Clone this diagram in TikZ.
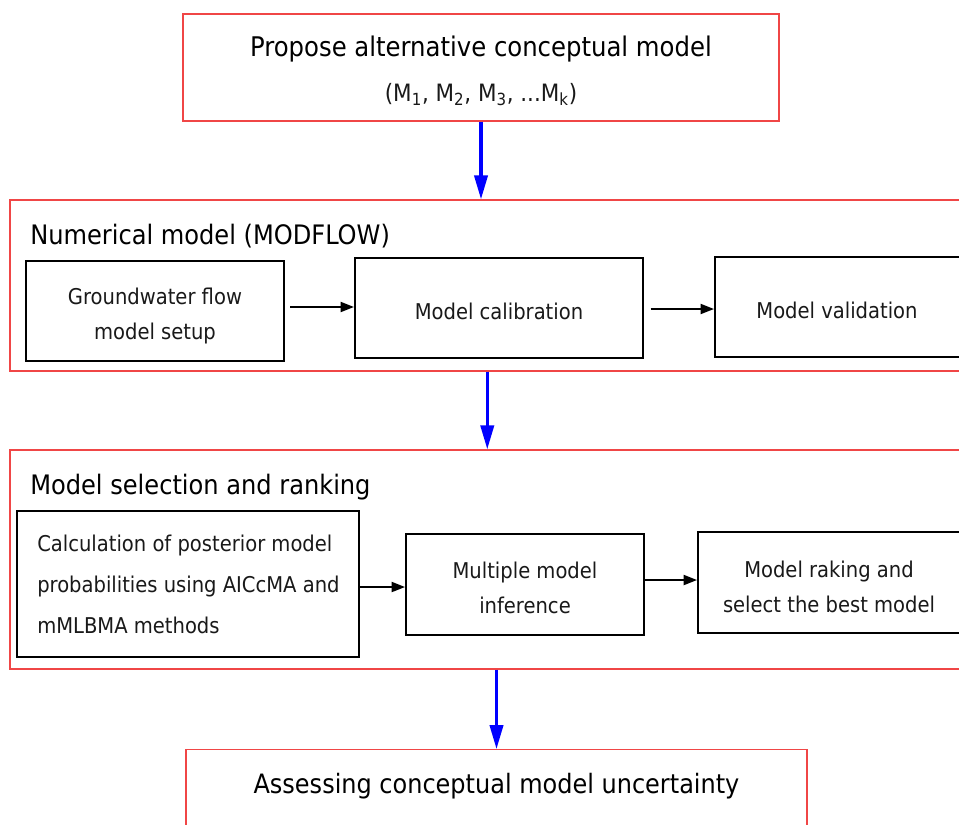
\documentclass[tikz,border=0pt]{standalone}
\usepackage{fontspec}
\setmainfont{DejaVu Sans Condensed}
\usetikzlibrary{arrows.meta,calc}
\definecolor{frame}{RGB}{240,70,70}
\definecolor{flow}{RGB}{0,0,255}
\definecolor{ink}{RGB}{25,25,25}
\begin{document}
\begin{tikzpicture}[x=0.75pt,y=-0.75pt,
  stage/.style={draw=frame,line width=1.1pt,rectangle,inner sep=0pt,align=center,text=ink},
  stepbox/.style={draw=black,line width=1.5pt,rectangle,inner sep=0pt},
  steptext/.style={inner sep=0pt,align=center,text=ink,font=\fontsize{16.3}{26.25}\selectfont},
  heading/.style={anchor=base west,inner sep=0pt,text=black,font=\fontsize{20.1}{24}\selectfont},
  mainflow/.style={draw=flow,line width=2.3pt,-{Triangle[length=18pt,width=10pt]}},
  subflow/.style={draw=black,line width=1.4pt,-{Triangle[length=10pt,width=7.5pt]}}
]
\useasboundingbox (0,0) rectangle (959,824);
\clip (0,0) rectangle (959,824);

% conceptual models
\node[stage,minimum width=596*0.75pt,minimum height=107*0.75pt] (concept) at (481,67.5) {};
\node[anchor=base,inner sep=0pt,text=black,font=\fontsize{20.3}{24}\selectfont]
  (concepttext) at (481,57) {Propose alternative conceptual model};
\node[anchor=base,inner sep=0pt,text=ink,font=\fontsize{17.9}{24}\selectfont]
  (modelset) at (481,101)
  {(M\textsubscript{1}, M\textsubscript{2}, M\textsubscript{3}, ...M\textsubscript{k})};

% numerical model stage
\node[stage,minimum width=952*0.75pt,minimum height=171*0.75pt] (numerical) at (486,285.5) {};
\node[heading] (numtitle) at (30,244) {Numerical model (MODFLOW)};
\node[stepbox,minimum width=258*0.75pt,minimum height=100*0.75pt] (setup) at (155,311) {};
\node[steptext] (setuptext) at (155,316) {Groundwater flow\\model setup};
\node[stepbox,minimum width=288*0.75pt,minimum height=100*0.75pt] (calib) at (499,308) {};
\node[steptext] (calibtext) at (499,311) {Model calibration};
\node[stepbox,minimum width=247*0.75pt,minimum height=100*0.75pt] (valid) at (838.5,307) {};
\node[steptext] (validtext) at (837,310) {Model validation};

% model selection stage
\node[stage,minimum width=952*0.75pt,minimum height=219*0.75pt] (selection) at (486,559.5) {};
\node[heading] (seltitle) at (30,494) {Model selection and ranking};
\node[stepbox,minimum width=342*0.75pt,minimum height=146*0.75pt] (posterior) at (188,584) {};
\node[steptext,anchor=west,align=left,font=\fontsize{16.3}{30.75}\selectfont]
  (posteriortext) at (37,584)
  {Calculation of posterior model\\probabilities using AICcMA and\\mMLBMA methods};
\node[stepbox,minimum width=238*0.75pt,minimum height=101*0.75pt] (inference) at (525,584.5) {};
\node[steptext] (inferencetext) at (525,588) {Multiple model\\inference};
\node[stepbox,minimum width=264*0.75pt,minimum height=101*0.75pt] (ranking) at (830,582.5) {};
\node[steptext] (rankingtext) at (829,587) {Model raking and\\select the best model};

% final stage
\node[stage,minimum width=621*0.75pt,minimum height=90*0.75pt,anchor=north] (uncertainty)
  at (496.5,749) {};
\node[anchor=base,inner sep=0pt,text=black,font=\fontsize{20}{24}\selectfont] (uncertaintytext)
  at (496.5,793) {Assessing conceptual model uncertainty};

% main flow
\draw[mainflow] (concept.south) -- (concept.south |- numerical.north);
\draw[mainflow] ($(numerical.south west)+(478,0)$) -- ($(selection.north west)+(478,0)$);
\draw[mainflow] (uncertainty.north |- selection.south) -- (uncertainty.north);

% steps inside the stages
\draw[subflow,shorten <=4pt] (setup.east |- 0,307) -- (calib.west |- 0,307);
\draw[subflow,shorten <=5pt] (calib.east |- 0,309) -- (valid.west |- 0,309);
\draw[subflow] (posterior.east |- 0,587) -- (inference.west |- 0,587);
\draw[subflow] (inference.east |- 0,580) -- (ranking.west |- 0,580);
\end{tikzpicture}
\end{document}
